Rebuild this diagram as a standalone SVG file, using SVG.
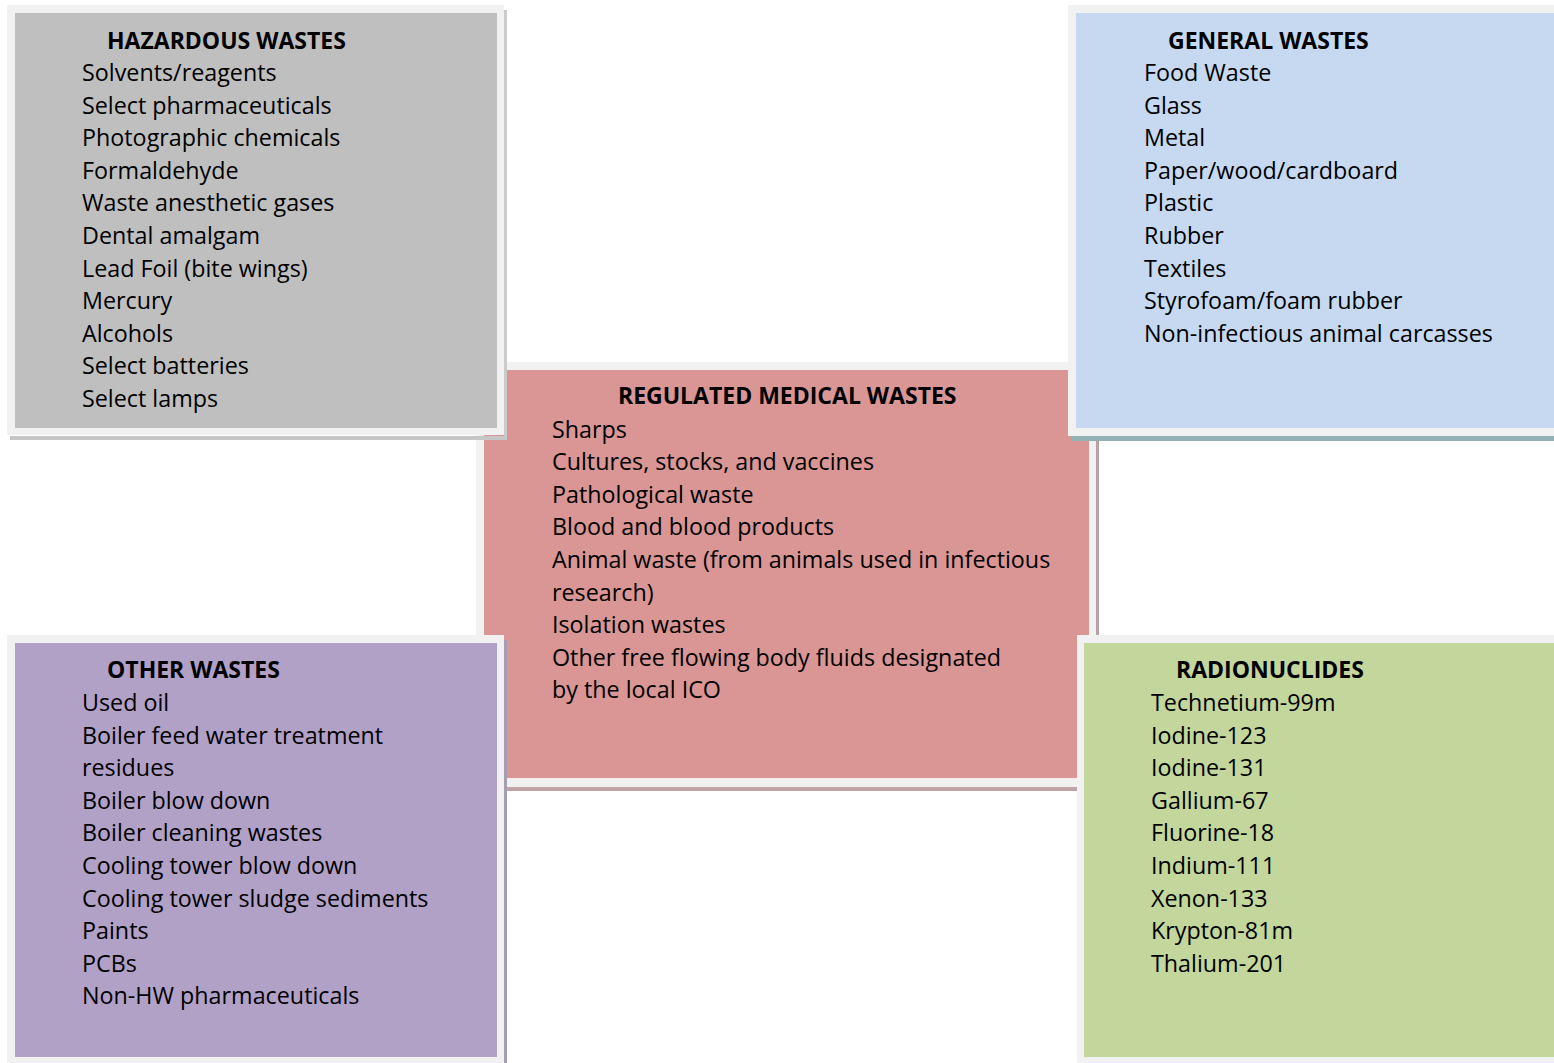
<svg xmlns="http://www.w3.org/2000/svg" width="1554" height="1063" viewBox="0 0 1554 1063">
<style>
.frame{fill:#f1f1f1}
text{font-family:"Open Sans","Noto Sans",sans-serif;font-size:23.3px;fill:#000}
.t{font-weight:bold;font-size:23px}
</style>
<rect width="1554" height="1063" fill="#fff"/>
<g id="regulated">
<rect class="frame" x="476" y="362" width="621" height="425"/>
<rect x="484" y="370" width="605" height="408" fill="#d99694"/>
<rect x="1096" y="372" width="3" height="418" fill="#b9a0a4"/>
<rect x="478" y="787" width="621" height="4" fill="#bfa3a7"/>
<text class="t" x="618" y="404">REGULATED MEDICAL WASTES</text>
<text x="552" y="437.5">Sharps</text>
<text x="552" y="470.1">Cultures, stocks, and vaccines</text>
<text x="552" y="502.7">Pathological waste</text>
<text x="552" y="535.3">Blood and blood products</text>
<text x="552" y="567.9">Animal waste (from animals used in infectious</text>
<text x="552" y="600.5">research)</text>
<text x="552" y="633.1">Isolation wastes</text>
<text x="552" y="665.7">Other free flowing body fluids designated</text>
<text x="552" y="698.3">by the local ICO</text>
</g>
<g id="hazardous">
<rect class="frame" x="7" y="5" width="497" height="430"/>
<rect x="15" y="13" width="482" height="415" fill="#bfbfbf"/>
<rect x="504" y="10" width="3" height="430" fill="#cbcbcb"/>
<rect x="10" y="436" width="497" height="4" fill="#c6c6c6"/>
<text class="t" x="107" y="49">HAZARDOUS WASTES</text>
<text x="82" y="81">Solvents/reagents</text>
<text x="82" y="113.6">Select pharmaceuticals</text>
<text x="82" y="146.2">Photographic chemicals</text>
<text x="82" y="178.8">Formaldehyde</text>
<text x="82" y="211.4">Waste anesthetic gases</text>
<text x="82" y="244">Dental amalgam</text>
<text x="82" y="276.6">Lead Foil (bite wings)</text>
<text x="82" y="309.2">Mercury</text>
<text x="82" y="341.8">Alcohols</text>
<text x="82" y="374.4">Select batteries</text>
<text x="82" y="407">Select lamps</text>
</g>
<g id="general">
<rect class="frame" x="1068" y="5" width="486" height="431"/>
<rect x="1076" y="13" width="478" height="415" fill="#c6d9f1"/>
<rect x="1071" y="436" width="483" height="5" fill="#93b0b5"/>
<text class="t" x="1168" y="49">GENERAL WASTES</text>
<text x="1144" y="81">Food Waste</text>
<text x="1144" y="113.6">Glass</text>
<text x="1144" y="146.2">Metal</text>
<text x="1144" y="178.8">Paper/wood/cardboard</text>
<text x="1144" y="211.4">Plastic</text>
<text x="1144" y="244">Rubber</text>
<text x="1144" y="276.6">Textiles</text>
<text x="1144" y="309.2">Styrofoam/foam rubber</text>
<text x="1144" y="341.8">Non-infectious animal carcasses</text>
</g>
<g id="other">
<rect class="frame" x="7" y="635" width="497" height="428"/>
<rect x="15" y="643" width="482" height="414" fill="#b2a1c7"/>
<rect x="504" y="640" width="3" height="423" fill="#a59cb6"/>
<text class="t" x="107" y="678">OTHER WASTES</text>
<text x="82" y="711">Used oil</text>
<text x="82" y="743.6">Boiler feed water treatment</text>
<text x="82" y="776.2">residues</text>
<text x="82" y="808.8">Boiler blow down</text>
<text x="82" y="841.4">Boiler cleaning wastes</text>
<text x="82" y="874">Cooling tower blow down</text>
<text x="82" y="906.6">Cooling tower sludge sediments</text>
<text x="82" y="939.2">Paints</text>
<text x="82" y="971.8">PCBs</text>
<text x="82" y="1004.4">Non-HW pharmaceuticals</text>
</g>
<g id="radionuclides">
<rect class="frame" x="1077" y="635" width="477" height="428"/>
<rect x="1084" y="643" width="470" height="414" fill="#c3d69b"/>
<text class="t" x="1176" y="678">RADIONUCLIDES</text>
<text x="1151" y="711">Technetium-99m</text>
<text x="1151" y="743.6">Iodine-123</text>
<text x="1151" y="776.2">Iodine-131</text>
<text x="1151" y="808.8">Gallium-67</text>
<text x="1151" y="841.4">Fluorine-18</text>
<text x="1151" y="874">Indium-111</text>
<text x="1151" y="906.6">Xenon-133</text>
<text x="1151" y="939.2">Krypton-81m</text>
<text x="1151" y="971.8">Thalium-201</text>
</g>
<g id="connectors"/>
</svg>
